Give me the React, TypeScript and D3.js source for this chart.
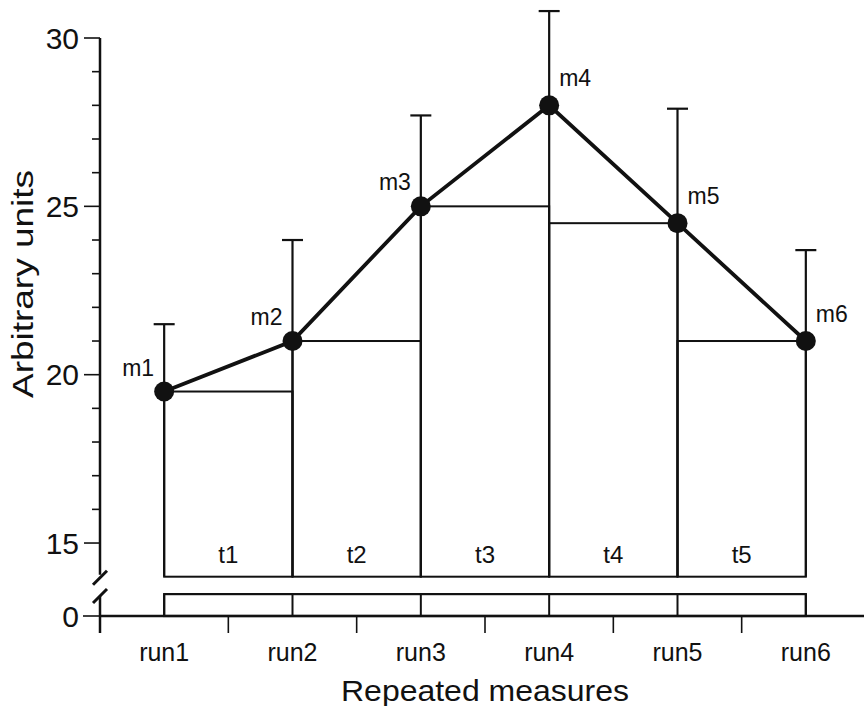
import { useEffect } from 'react';
import * as d3 from 'd3';

// data
const runs = ['run1', 'run2', 'run3', 'run4', 'run5', 'run6'];
const means = [19.5, 21, 25, 28, 24.5, 21];
const errTop = [21.5, 24, 27.7, 30.8, 27.9, 23.7];
const pointLabels = ['m1', 'm2', 'm3', 'm4', 'm5', 'm6'];
const intervalLabels = ['t1', 't2', 't3', 't4', 't5'];
const majorTicks = [15, 20, 25, 30];
const minorTicks = [16, 17, 18, 19, 21, 22, 23, 24, 26, 27, 28, 29];
const baseValue = 14; // bottom of the upper panel
const stripValue = 0.65; // height of the strip under the break

const W = 864;
const H = 706;
const font = '"Liberation Sans", Arial, Helvetica, sans-serif';

export default function App() {
    useEffect(() => {
        document.body.style.margin = '0';
    }, []);

    const x = d3.scaleBand<string>().domain(runs).range([100, 870]);
    const cx = (i: number) => (x(runs[i]) as number) + x.bandwidth() / 2;

    // upper (broken) panel and lower panel share the same px per unit
    const yTop = d3.scaleLinear().domain([baseValue, 30]).range([576.7, 38]);
    const pxPerUnit = (576.7 - 38) / (30 - baseValue);
    const yBot = d3.scaleLinear().domain([0, 1]).range([616, 616 - pxPerUnit]);

    const line = d3
        .line<number>()
        .x((_, i) => cx(i))
        .y((d) => yTop(d));

    const axisX0 = x.range()[0];
    const breakY = yTop(baseValue);

    return (
        <svg width={W} height={H} style={{ display: 'block', background: '#fff' }} fontFamily={font}>
            {/* y axis, upper part */}
            <line x1={axisX0} x2={axisX0} y1={yTop(30)} y2={breakY - 2} stroke="#111" strokeWidth={2.5} />
            {majorTicks.map((t) => (
                <g key={'M' + t}>
                    <line x1={axisX0 - 16} x2={axisX0} y1={yTop(t)} y2={yTop(t)} stroke="#111" strokeWidth={1.6} />
                    <text x={axisX0 - 21} y={yTop(t)} dy="0.36em" textAnchor="end" fontSize={30} fill="#111">
                        {t}
                    </text>
                </g>
            ))}
            {minorTicks.map((t) => (
                <line key={'m' + t} x1={axisX0 - 8} x2={axisX0} y1={yTop(t)} y2={yTop(t)} stroke="#111" strokeWidth={1.6} />
            ))}
            {/* break marks */}
            <line x1={axisX0 - 7} x2={axisX0 + 7} y1={breakY + 8} y2={breakY - 6} stroke="#111" strokeWidth={3} />
            <line x1={axisX0 - 7} x2={axisX0 + 7} y1={yBot(0) - 13} y2={yBot(0) - 27} stroke="#111" strokeWidth={3} />
            {/* y axis, lower part */}
            <line x1={axisX0} x2={axisX0} y1={yBot(0) - 20} y2={yBot(0) + 17} stroke="#111" strokeWidth={2.5} />
            <line x1={axisX0 - 17} x2={axisX0} y1={yBot(0)} y2={yBot(0)} stroke="#111" strokeWidth={1.6} />
            <text x={axisX0 - 21} y={yBot(0)} dy="0.36em" textAnchor="end" fontSize={30} fill="#111">
                0
            </text>

            {/* x axis */}
            <line x1={axisX0} x2={x.range()[1]} y1={yBot(0)} y2={yBot(0)} stroke="#111" strokeWidth={2.5} />
            {runs.map((r) => (
                <line key={'xt' + r} x1={x(r)} x2={x(r)} y1={yBot(0)} y2={yBot(0) + 17} stroke="#111" strokeWidth={1.6} />
            ))}
            {runs.map((r, i) => (
                <text key={'xl' + r} x={cx(i)} y={661} textAnchor="middle" fontSize={25} fill="#111">
                    {r}
                </text>
            ))}
            <text x={(x.range()[0] + x.range()[1]) / 2} y={701} textAnchor="middle" fontSize={30} fill="#111" textLength={288} lengthAdjust="spacingAndGlyphs">
                Repeated measures
            </text>
            <text transform={`translate(33,284) rotate(-90)`} textAnchor="middle" fontSize={30} fill="#111" textLength={228} lengthAdjust="spacingAndGlyphs">
                Arbitrary units
            </text>

            {/* strip below the break */}
            <rect x={cx(0)} y={yBot(stripValue)} width={cx(5) - cx(0)} height={yBot(0) - yBot(stripValue)} fill="none" stroke="#111" strokeWidth={2.2} />
            {runs.map((r, i) => (
                <line key={'sd' + r} x1={cx(i)} x2={cx(i)} y1={yBot(stripValue)} y2={yBot(0)} stroke="#111" strokeWidth={2} />
            ))}

            {/* trapezoid rectangles */}
            {intervalLabels.map((t, i) => {
                const top = Math.min(means[i], means[i + 1]);
                return (
                    <g key={t}>
                        <rect x={cx(i)} y={yTop(top)} width={cx(i + 1) - cx(i)} height={yTop(baseValue) - yTop(top)} fill="none" stroke="#111" strokeWidth={2} />
                        <text x={(cx(i) + cx(i + 1)) / 2} y={yTop(baseValue) - 14} textAnchor="middle" fontSize={24} fill="#111">
                            {t}
                        </text>
                    </g>
                );
            })}

            {/* verticals + error bars */}
            {runs.map((r, i) => (
                <g key={'e' + r}>
                    <line x1={cx(i)} x2={cx(i)} y1={yTop(baseValue)} y2={yTop(errTop[i])} stroke="#111" strokeWidth={2.2} />
                    <line x1={cx(i) - 10.5} x2={cx(i) + 10.5} y1={yTop(errTop[i])} y2={yTop(errTop[i])} stroke="#111" strokeWidth={2.2} />
                </g>
            ))}

            <path d={line(means) || ''} fill="none" stroke="#111" strokeWidth={3.8} />
            {means.map((m, i) => (
                <circle key={'p' + i} cx={cx(i)} cy={yTop(m)} r={10} fill="#111" />
            ))}
            {pointLabels.map((l, i) => {
                const left = i < 3;
                return (
                    <text key={l} x={left ? cx(i) - 10 : cx(i) + 10} y={yTop(means[i]) - (left ? 16 : 19)} textAnchor={left ? 'end' : 'start'} fontSize={23} fill="#111">
                        {l}
                    </text>
                );
            })}
        </svg>
    );
}
